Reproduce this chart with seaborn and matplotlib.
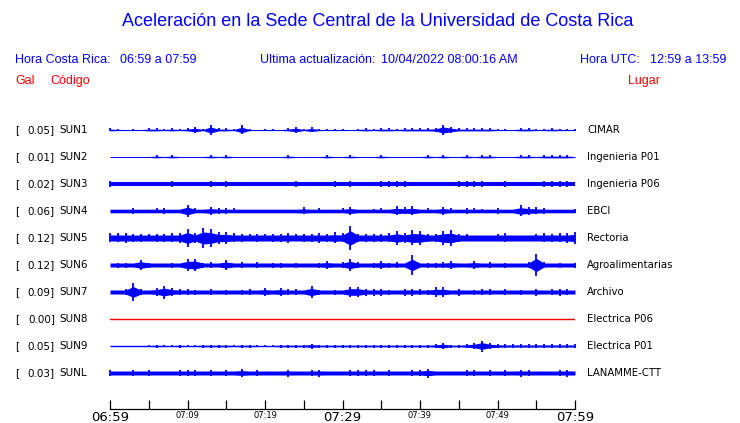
# Aceleración en la Sede Central UCR - registro de 10 estaciones, 06:59 a 07:59
import numpy as np
import pandas as pd
import matplotlib
matplotlib.use('Agg')
import matplotlib.pyplot as plt
import seaborn as sns

sns.set_theme(style='white')
plt.rcParams['font.family'] = ['DejaVu Sans']

# ===================== datos =====================
codigos = ['SUN1', 'SUN2', 'SUN3', 'SUN4', 'SUN5', 'SUN6', 'SUN7', 'SUN8', 'SUN9', 'SUNL']
gal = ['0.05', '0.01', '0.02', '0.06', '0.12', '0.12', '0.09', '0.00', '0.05', '0.03']
lugares = ['CIMAR', 'Ingenieria P01', 'Ingenieria P06', 'EBCI', 'Rectoria',
           'Agroalimentarias', 'Archivo', 'Electrica P06', 'Electrica P01', 'LANAMME-CTT']

minutos = np.arange(61)  # 06:59 .. 07:59

# envolvente (semi-amplitud, pixeles), un valor por minuto
sun1 = [1.5, 1, 0.5, 1, 0.5, 1.5, 1.5, 1, 1.5, 1,
        1.5, 3, 1, 5, 1.5, 1.5, 1, 4.5, 1, 0.5,
        1, 1, 0.5, 1.5, 3, 1, 2.5, 1, 1, 1,
        1, 0.5, 1, 1.5, 1, 1.5, 1.5, 1, 1.5, 1.5,
        1.5, 1.5, 2, 5, 3, 1.5, 1.5, 1.5, 1.5, 1.5,
        1, 1, 0.5, 1.5, 1.5, 1, 1, 1.5, 1, 1,
        1]
sun2 = [.5, .5, .5, .5, .5, .5, 1.5, .5, 1.5, .5,
        .5, .5, .5, 1.5, .5, 1.5, .5, .5, .5, .5,
        .5, .5, .5, 1.5, .5, .5, .5, .5, 1.5, .5,
        .5, 1.5, .5, .5, .5, 1.5, .5, .5, .5, .5,
        .5, 1.5, .5, 1.5, .5, .5, 1.5, .5, 1.5, 1.5,
        .5, .5, .5, 1.5, 1.5, .5, 1.5, 1.5, 1.5, 1.5,
        .5]
sun3 = [2.7, 1.8, 1.8, 1.8, 1.8, 1.8, 1.8, 1.8, 2.7, 1.8,
        1.8, 1.8, 1.8, 2.7, 1.8, 2.7, 1.8, 1.8, 1.8, 1.8,
        1.8, 1.8, 1.8, 1.8, 2.7, 1.8, 1.8, 1.8, 1.8, 2.7,
        1.8, 2.7, 1.8, 1.8, 1.8, 2.7, 2.7, 2.7, 2.7, 1.8,
        1.8, 1.8, 1.8, 1.8, 1.8, 2.7, 2.7, 3, 2.7, 1.8,
        1.8, 2.7, 1.8, 1.8, 1.8, 1.8, 2.7, 2.7, 2.7, 2.7,
        1.8]
sun4 = [1.8, 1.8, 1.8, 3, 1.8, 1.8, 2.5, 3, 1.8, 1.8,
        6.3, 2.5, 1.8, 4, 3, 3, 2.5, 1.8, 1.8, 1.8,
        1.8, 1.8, 1.8, 1.8, 1.8, 3.5, 1.8, 2.5, 1.8, 1.8,
        2.5, 4, 1.8, 1.8, 2, 2.5, 1.8, 4.5, 3.5, 4.5,
        1.8, 2.5, 1.8, 4, 2.5, 1.8, 3, 2.5, 2, 1.8,
        3, 1.8, 1.8, 5.5, 4, 3.5, 3, 1.8, 1.8, 1.8,
        2]
sun5 = [4.5, 4.5, 5, 4, 4, 3.5, 4, 4, 4.5, 5,
        9, 5, 10, 9, 6, 6, 4.5, 4, 3.5, 4,
        3.5, 4, 4, 5, 3.5, 4, 4, 5, 4, 5.5,
        4.5, 12, 4, 4, 4, 4, 4.5, 7, 5, 7.5,
        7, 4, 4, 7, 8, 4, 3.5, 3, 3, 3,
        3.5, 4.5, 3, 3, 3, 3.5, 4.5, 4, 4.5, 5,
        6]
sun6 = [2, 2.5, 2.5, 2, 5.5, 2.5, 2, 2, 2.5, 2,
        6, 6.5, 2.5, 3, 2, 5, 2, 3, 2, 3,
        2, 2.5, 2.5, 2, 2.5, 2, 2, 2.5, 4, 2,
        3, 6, 3, 2, 2.5, 4, 2.5, 3, 2, 9.5,
        2, 2.5, 2.5, 3, 4, 2, 2, 4, 2, 3,
        2, 2.5, 2, 2, 3, 11, 3, 2, 2.5, 2,
        2.5]
sun7 = [2, 2, 3, 9, 3, 2, 4, 6.5, 4, 3,
        3, 2.5, 2, 3, 2, 2.5, 2, 2.5, 3, 2,
        4, 2, 4, 3, 3, 2, 6, 2.5, 2, 2.5,
        2, 5.5, 5.5, 3.5, 3.5, 3.5, 2.5, 2, 3.5, 3.5,
        3, 2.5, 4.5, 4.5, 2, 3.5, 2, 2.5, 3, 3,
        2, 3, 2, 2.5, 2, 3.5, 2, 3, 3.5, 3,
        2]
sun8 = [0] * 61
sun9 = [.7, .7, .7, .7, .7, 1, 1.5, 1, 1, 1.5,
        1, 1, 1.5, 1.5, 1.5, 1.5, 1, 1.5, 1.5, 1,
        1, 1, 1.5, 1.5, 1.5, 1.5, 2.5, 1.5, 1.5, 1.5,
        1.5, 1.5, 1.5, 1.5, 1.5, 1.5, 1.5, 1.5, 1.5, 1.5,
        1.5, 1.5, 2, 3, 1.5, 1.5, 2, 3, 5.5, 3,
        2, 1.8, 1.8, 1.8, 1.8, 1.8, 1.8, 1.8, 1.8, 1.8,
        1.8]
sunl = [2.5, 2, 2, 2.5, 2, 2.5, 2, 2, 2, 2.5,
        2.5, 2.5, 2, 2.5, 2, 2.5, 2, 4, 2, 2.5,
        2, 2, 2, 3.5, 2, 2, 2.5, 3.5, 2, 2,
        2, 2.5, 3, 2.5, 2.5, 2, 2.5, 2, 2, 2.5,
        2.5, 4.5, 2, 2, 2, 2, 3, 2.5, 2, 2.5,
        2, 2.5, 2, 3.5, 2.5, 2, 2, 2, 3, 3.5,
        2]
trazas = [sun1, sun2, sun3, sun4, sun5, sun6, sun7, sun8, sun9, sunl]

etiquetas_tiempo = ['06:59', '', '07:09', '', '07:19', '', '07:29',
                    '', '07:39', '', '07:49', '', '07:59']

# ===================== figura =====================
W, H = 740, 423
AZUL = '#0000ff'
ROJO = '#ff0000'
fig = plt.figure(figsize=(W / 100, H / 100), dpi=100)
fig.patch.set_facecolor('white')

def fx(px):
    return px / W

def fy(py):
    return 1 - py / H

# ejes de trazas: filas separadas 27 px, fila 0 en y=130, eje de tiempo en y=409
ax = fig.add_axes([fx(110), fy(409), (575 - 110) / W, (409 - 115) / H])
ax.set_facecolor('white')
ax.set_xlim(0, 60)
ax.set_ylim((409 - 130) / 27, (115 - 130) / 27)
esc = 1 / 27  # pixeles -> unidades de fila

for i, env in enumerate(trazas):
    env = np.asarray(env, dtype=float)
    if env.max() == 0:
        sns.lineplot(x=minutos, y=np.full(len(minutos), i), ax=ax, color=ROJO, lw=1.0)
        continue
    base = env.min()
    cuerpo = np.maximum(base, 0.6 * env)
    ax.fill_between(minutos, i - cuerpo * esc, i + cuerpo * esc, color=AZUL, lw=0)
    picos = env > base
    ax.vlines(minutos[picos], i - env[picos] * esc, i + env[picos] * esc,
              color=AZUL, lw=1.3, clip_on=False)

for s in ['top', 'left', 'right']:
    ax.spines[s].set_visible(False)
ax.spines['bottom'].set_color('black')
ax.spines['bottom'].set_linewidth(0.9)
ax.set_yticks([])
ax.set_xticks(np.arange(0, 61, 5))
ax.set_xticklabels(etiquetas_tiempo)
ax.tick_params(axis='x', direction='in', length=6.5, width=0.9, color='black',
               pad=1.5, labelcolor='black', bottom=True)
for k, lab in enumerate(ax.get_xticklabels()):
    lab.set_fontsize(9.5 if k % 6 == 0 else 6)
    lab.set_verticalalignment('top')
ax.set_xlabel('')
ax.set_ylabel('')

# ===================== textos =====================
fig.text(fx(378), fy(22), 'Aceleración en la Sede Central de la Universidad de Costa Rica',
         ha='center', va='center', color=AZUL, fontsize=13, family='Liberation Sans')

cab = dict(va='center', color=AZUL, fontsize=9, family='Liberation Sans')
fig.text(fx(15), fy(60), 'Hora Costa Rica:', **cab)
fig.text(fx(120), fy(60), '06:59 a 07:59', **cab)
fig.text(fx(260), fy(60), 'Ultima actualización:', **cab)
fig.text(fx(381), fy(60), '10/04/2022 08:00:16 AM', **cab)
fig.text(fx(580), fy(60), 'Hora UTC:', **cab)
fig.text(fx(650), fy(60), '12:59 a 13:59', **cab)

roj = dict(va='center', color=ROJO, fontsize=9, family='Liberation Sans')
fig.text(fx(15), fy(81), 'Gal', **roj)
fig.text(fx(50), fy(81), 'Código', **roj)
fig.text(fx(628), fy(81), 'Lugar', **roj)

for i in range(len(codigos)):
    y = 130 + 27 * i
    fig.text(fx(15), fy(y), '[', va='center', fontsize=7.5, color='black')
    fig.text(fx(55), fy(y), gal[i] + ']', va='center', ha='right', fontsize=7.5, color='black')
    fig.text(fx(59), fy(y), codigos[i], va='center', fontsize=7.5, color='black')
    fig.text(fx(587), fy(y), lugares[i], va='center', fontsize=7.3, color='black')

fig.savefig('out.png', dpi=100, facecolor='white')
